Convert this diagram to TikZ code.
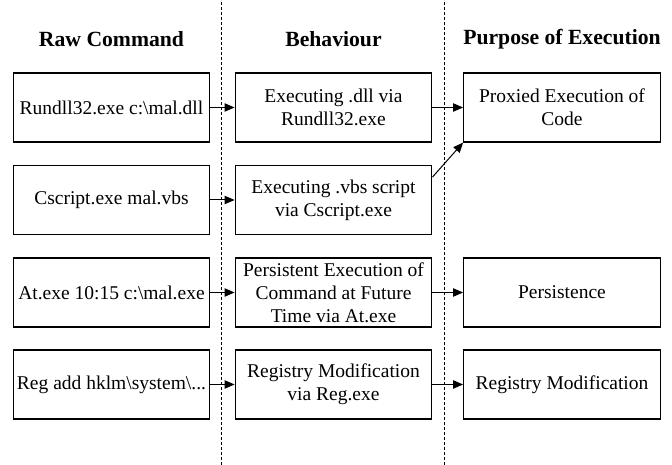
\documentclass[tikz,border=0pt]{standalone}
\usepackage{fontspec}
\setmainfont{LiberationSerif}[Extension=.ttf, UprightFont=*-Regular, BoldFont=*-Bold,
  ItalicFont=*-Italic, BoldItalicFont=*-BoldItalic]
\usetikzlibrary{arrows.meta}
\begin{document}
\begin{tikzpicture}[x=0.6pt, y=0.6pt,
    blk/.style={draw, line width=0.7pt, minimum width=118pt, minimum height=41.4pt,
      inner sep=2pt, align=center, font=\fontsize{11.7}{13.8}\selectfont},
    hdr/.style={font=\bfseries\fontsize{13}{15}\selectfont},
    arr/.style={line width=0.6pt, -{Triangle[length=6pt, width=5pt]}},
    sep/.style={line width=0.5pt, dash pattern=on 1.8pt off 1.2pt}]
  \useasboundingbox (0,0) rectangle (672,465);
  % dividers
  \draw[sep] (221,0) -- (221,465);
  \draw[sep] (444,0) -- (444,465);
  % headings
  \node[hdr] (hraw) at (111.5,426) {Raw Command};
  \node[hdr] (hbeh) at (333.5,426) {Behaviour};
  \node[hdr] (hpur) at (562,426) {Purpose of Execution};
  % raw commands
  \node[blk] (a1) at (111.5,357.5) {Rundll32.exe c:\textbackslash mal.dll};
  \node[blk] (a2) at (111.5,265) {Cscript.exe mal.vbs};
  \node[blk] (a3) at (111.5,172.5) {At.exe 10:15 c:\textbackslash mal.exe};
  \node[blk] (a4) at (111.5,80.5) {Reg add hklm\textbackslash system\textbackslash...};
  % behaviour
  \node[blk] (b1) at (333.5,357.5) {Executing .dll via\\Rundll32.exe};
  \node[blk] (b2) at (333.5,265) {Executing .vbs script\\via Cscript.exe};
  \node[blk] (b3) at (333.5,172.5) {Persistent Execution of\\Command at Future\\Time via At.exe};
  \node[blk] (b4) at (333.5,80.5) {Registry Modification\\via Reg.exe};
  % purpose
  \node[blk] (c1) at (562,357.5) {Proxied Execution of\\Code};
  \node[blk] (c3) at (562,172.5) {Persistence};
  \node[blk] (c4) at (562,80.5) {Registry Modification};
  % arrows
  \draw[arr] (a1) -- (b1);
  \draw[arr] (a2) -- (b2);
  \draw[arr] (a3) -- (b3);
  \draw[arr] (a4) -- (b4);
  \draw[arr] (b1) -- (c1);
  \draw[arr] (b2.13) -- (c1.south west);
  \draw[arr] (b3) -- (c3);
  \draw[arr] (b4) -- (c4);
\end{tikzpicture}
\end{document}
